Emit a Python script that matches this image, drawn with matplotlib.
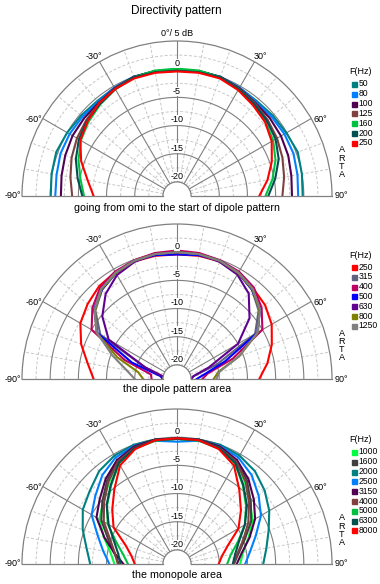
import numpy as np
import matplotlib.pyplot as plt
from matplotlib.lines import Line2D

plt.rcParams['font.family'] = ['Liberation Sans', 'DejaVu Sans']

W, H = 380, 584

# angle of each measured point, degrees (0 = on axis)
angles = [-90, -80, -70, -60, -50, -40, -30, -20, -10, 0,
          10, 20, 30, 40, 50, 60, 70, 80, 90]

# level relative to on-axis, dB (outer ring = +5 dB)
f50 = [-0.1, 0.1, 0.3, 0.0, -0.3, -0.5, -0.3, 0.0, 0.0, -0.2, 0.0, 0.0, -0.3, -0.5, -0.3, -0.1, 0.3, 0.0, -0.2]
f80 = [-0.9, -0.8, -0.5, -0.5, -0.6, -0.7, -0.3, 0.0, 0.0, -0.2, 0.0, 0.0, -0.3, -0.7, -0.6, -0.5, -0.5, -0.8, -1.0]
f100 = [-1.9, -1.7, -1.4, -1.1, -1.0, -0.9, -0.4, 0.0, 0.0, -0.2, 0.0, 0.0, -0.4, -0.9, -1.0, -1.2, -1.5, -1.9, -2.1]
f125 = [-3.9, -3.3, -2.6, -2.0, -1.5, -1.0, -0.5, -0.1, 0.0, -0.2, 0.0, -0.1, -0.5, -1.0, -1.5, -2.0, -2.6, -3.2, -3.8]
f160 = [-6.0, -5.1, -3.9, -2.8, -2.0, -1.3, -0.6, -0.1, 0.1, 0.1, 0.1, -0.1, -0.6, -1.3, -2.0, -2.8, -3.9, -5.3, -6.8]
f200 = [-5.7, -4.6, -3.4, -2.4, -1.7, -1.2, -0.6, -0.1, -0.2, -0.3, -0.2, -0.1, -0.6, -1.2, -1.7, -2.3, -3.3, -4.8, -6.3]
f250 = [-7.7, -6.4, -4.4, -2.7, -1.8, -1.0, -0.6, -0.3, -0.3, -0.4, -0.3, -0.3, -0.8, -1.5, -2.1, -3.1, -4.6, -6.2, -7.9]

f315 = [-20, -20, -16.5, -6.8, -3.6, -1.8, -0.8, -0.2, 0.0, 0.0, 0.0, -0.2, -0.8, -1.8, -3.6, -6.5, -15.0, -19.5, -20]
f400 = [-18.0, -17.8, -12.6, -5.0, -2.9, -1.3, -0.5, -0.1, 0.2, 0.3, 0.2, -0.1, -0.5, -1.3, -2.9, -5.0, -12.0, -17.0, -18.0]
f500 = [-20, -19.5, -14.0, -6.2, -3.3, -1.8, -0.8, -0.2, -0.2, -0.4, -0.2, -0.2, -0.8, -1.8, -3.3, -6.0, -13.5, -17.5, -19.0]
f630 = [-20, -20, -16.5, -8.5, -5.2, -2.8, -1.2, -0.4, 0.0, 0.0, 0.0, -0.4, -1.1, -2.7, -5.7, -10.0, -16.5, -19.5, -20]
f800 = [-16.5, -15.5, -11.2, -6.0, -3.5, -1.7, -0.8, -0.2, 0.0, 0.0, 0.0, -0.2, -0.8, -1.7, -3.4, -5.9, -10.8, -15.0, -16.0]
f1250 = [-15.0, -13.4, -10.3, -6.1, -3.4, -1.6, -0.7, -0.2, 0.0, 0.0, 0.0, -0.2, -0.7, -1.6, -3.3, -6.0, -10.8, -14.8, -15.5]

f1000 = [-11.4, -10.5, -8.7, -6.6, -5.4, -3.7, -1.4, -0.4, -0.1, -0.2, -0.1, -0.4, -1.4, -3.7, -5.6, -7.0, -9.0, -10.6, -11.3]
f1600 = [-12.2, -11.2, -9.5, -7.0, -5.2, -3.2, -1.4, -0.4, -0.1, -0.2, -0.1, -0.4, -1.4, -3.2, -5.4, -7.3, -9.7, -11.4, -12.4]
f2000 = [-7.1, -6.2, -4.7, -3.2, -2.3, -1.0, -0.3, 0.0, -0.1, -0.3, -0.1, 0.0, -0.3, -1.0, -2.2, -3.6, -5.2, -6.4, -7.2]
f2500 = [-10.5, -9.2, -7.5, -5.0, -3.6, -1.9, -0.7, -0.2, -0.3, -0.8, -0.3, -0.2, -0.7, -1.9, -3.6, -5.3, -7.6, -9.3, -10.4]
f3150 = [-13.0, -11.2, -8.8, -6.0, -4.6, -2.8, -1.2, -0.3, -0.1, -0.2, -0.1, -0.3, -1.2, -2.8, -4.7, -6.5, -8.8, -10.8, -11.9]
f4000 = [-12.0, -11.3, -9.9, -7.5, -5.6, -3.5, -1.5, -0.5, -0.2, -0.3, -0.2, -0.5, -1.5, -3.5, -5.8, -7.9, -10.0, -11.6, -12.5]
f5000 = [-13.8, -12.8, -11.0, -8.3, -6.3, -4.3, -1.9, -0.7, -0.3, -0.3, -0.3, -0.7, -1.9, -4.3, -6.5, -8.6, -11.0, -12.8, -13.6]
f6300 = [-12.5, -11.9, -10.6, -8.5, -6.2, -4.2, -1.8, -0.6, -0.2, -0.3, -0.2, -0.6, -1.8, -4.2, -6.3, -8.6, -10.8, -12.0, -12.6]
f8000 = [-15.0, -14.3, -12.8, -9.5, -7.5, -5.2, -2.3, -0.8, -0.2, -0.2, -0.2, -0.8, -2.3, -5.3, -7.7, -9.9, -12.9, -14.4, -15.1]

top_labels = ['50', '80', '100', '125', '160', '200', '250']
top_data = [f50, f80, f100, f125, f160, f200, f250]
top_colors = ['#008080', '#0080ff', '#500050', '#804040', '#00c040', '#005050', '#ff0000']

mid_labels = ['250', '315', '400', '500', '630', '800', '1250']
mid_data = [f250, f315, f400, f500, f630, f800, f1250]
mid_colors = ['#ff0000', '#606080', '#c00060', '#0000ff', '#600090', '#808000', '#808080']

bot_labels = ['1000', '1600', '2000', '2500', '3150', '4000', '5000', '6300', '8000']
bot_data = [f1000, f1600, f2000, f2500, f3150, f4000, f5000, f6300, f8000]
bot_colors = ['#00ff40', '#404040', '#008080', '#0080ff', '#500050', '#804040',
              '#00c040', '#005050', '#ff0000']

captions = ['going from omi to the start of dipole pattern',
            'the dipole pattern area', 'the monopole area']

fig = plt.figure(figsize=(W / 100, H / 100), dpi=100)


def fx(x):
    return x / W


def fy(y):
    return 1 - y / H


def polar_panel(cy, labels, data, colors, caption, cap_y, top_label=False, R=155, cx=177):
    # half-disc wedge sits in the middle of a square box
    ax = fig.add_axes([fx(cx - R), fy(cy + 0.5 * R), 2 * R / W, 2 * R / H],
                      projection='polar')
    ax.set_theta_zero_location('N')
    ax.set_theta_direction(-1)
    ax.set_thetamin(-90)
    ax.set_thetamax(90)
    ax.set_rlim(-20, 5)
    ax.set_rorigin(-22.5)
    ax.grid(False)
    ax.set_xticks([])
    ax.set_yticks([])
    for sp in ax.spines.values():
        sp.set_color('#808080')
        sp.set_linewidth(0.9)

    th = np.linspace(-np.pi / 2, np.pi / 2, 300)
    for v in [-17.5, -12.5, -7.5, -2.5, 2.5]:
        ax.plot(th, [v] * len(th), color='#c8c8c8', lw=0.7, ls=(0, (3, 2)))
    for a in range(-80, 90, 10):
        if a % 30:
            ax.plot([np.deg2rad(a)] * 2, [-20, 5], color='#c8c8c8', lw=0.7, ls=(0, (3, 2)))
    for v in [-15, -10, -5, 0]:
        ax.plot(th, [v] * len(th), color='#808080', lw=0.8)
    for a in [-60, -30, 0, 30, 60]:
        ax.plot([np.deg2rad(a)] * 2, [-20, 5], color='#808080', lw=0.8)

    th_data = np.deg2rad(angles)
    for vals, c in zip(data, colors):
        ax.plot(th_data, vals, color=c, lw=1.5)

    for v in [0, -5, -10, -15, -20]:
        ax.text(0, v + 1.0, str(v), ha='center', va='center', fontsize=6.5,
                bbox=dict(fc='white', ec='none', pad=0.2), zorder=5)
    for a in [-60, -30, 30, 60]:
        ax.text(np.deg2rad(a * 1.03), 6.4, f'{a}°', ha='center', va='center',
                fontsize=6.5, clip_on=False)
    for a in [-90, 90]:
        ax.text(np.deg2rad(a), 6.6, f'{a}°', ha='center', va='center',
                fontsize=6.5, clip_on=False)
    if top_label:
        ax.text(0, 6.3, '0°/ 5 dB', ha='center', va='center', fontsize=6.5, clip_on=False)

    # legend
    fig.text(fx(361), fy(cy - 124), 'F(Hz)', ha='center', va='center', fontsize=6.5)
    for i, (lab, c) in enumerate(zip(labels, colors)):
        y = cy - 112 + i * 9.8
        fig.add_artist(Line2D([fx(354)], [fy(y)], marker='s', ms=3.6, color=c,
                              ls='none', transform=fig.transFigure))
        fig.text(fx(358.5), fy(y), lab, ha='left', va='center', fontsize=6.2)
    for i, ch in enumerate('ARTA'):
        fig.text(fx(341.7), fy(cy - 46 + i * 8.2), ch, ha='center', va='center', fontsize=6.5)

    fig.text(fx(177), fy(cap_y), caption, ha='center', va='center', fontsize=7.7)
    return ax


polar_panel(196, top_labels, top_data, top_colors, captions[0], 208, top_label=True)
polar_panel(379, mid_labels, mid_data, mid_colors, captions[1], 389)
polar_panel(564, bot_labels, bot_data, bot_colors, captions[2], 575)

fig.text(fx(176), fy(11), 'Directivity pattern', ha='center', va='center', fontsize=8.5)

fig.savefig('out.png', dpi=100)
